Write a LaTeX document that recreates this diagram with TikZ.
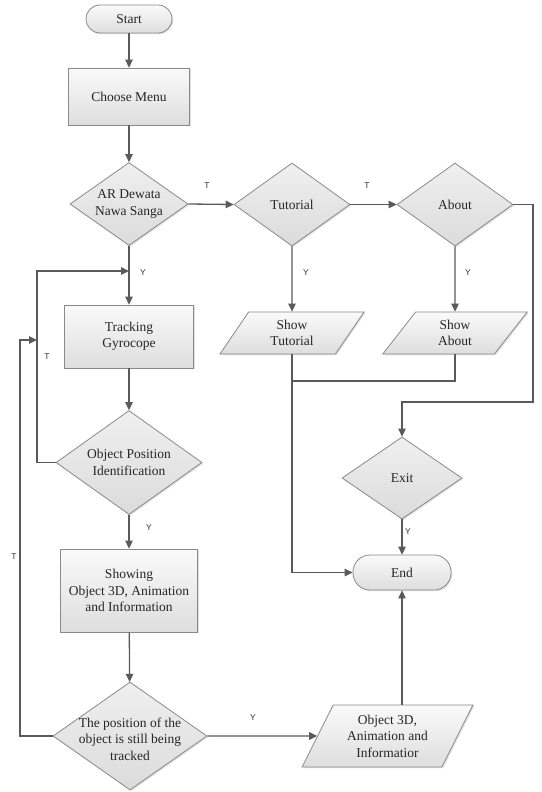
\documentclass[tikz,border=0pt]{standalone}
\usepackage{fontspec}
\setmainfont{Liberation Serif}
\newfontfamily\lblfont{Liberation Sans}
\usetikzlibrary{shapes.geometric,arrows.meta,shadows}
\definecolor{edgec}{HTML}{8A8A8A}
\definecolor{linec}{HTML}{5A5A5A}
\definecolor{txtc}{HTML}{262626}
\begin{document}
\begin{tikzpicture}[x=1pt,y=-1pt,
  maintext/.style={font=\fontsize{13.5}{16.5}\selectfont, text=txtc, align=center},
  base/.style={draw=edgec, line width=0.8pt, top color=black!2, bottom color=black!13,
    drop shadow={shadow xshift=1.2pt, shadow yshift=-1.2pt, opacity=0.25},
    maintext, inner sep=1pt},
  term/.style={base, rectangle, rounded corners=#1},
  proc/.style={base, rectangle},
  dec/.style={base, diamond, inner sep=0pt, top color=black!6, bottom color=black!14},
  io/.style={base, trapezium, trapezium left angle=62, trapezium right angle=118,
    trapezium stretches=true},
  dtext/.style={maintext},
  conn/.style={draw=linec, line width=1.3pt},
  arr/.style={conn, -{Triangle[length=8pt,width=7.5pt]}},
  yt/.style={font=\lblfont\fontsize{8.5}{9}\selectfont, text=black!80, inner sep=0pt}
]
\path[use as bounding box, fill=white] (0,0) rectangle (541,792);

% left column
\node[term=14pt, minimum width=86pt, minimum height=28pt] (start) at (129,19) {Start};
\node[proc, minimum width=121pt, minimum height=57pt] (menu) at (129,96.5) {Choose Menu};
\node[dec, minimum width=118pt, minimum height=83pt,
  label={[dtext]center:{AR Dewata\\Nawa Sanga}}] (ar) at (129,204) {};
\node[proc, minimum width=129pt, minimum height=63pt] (track) at (129,336.5) {Tracking\\Gyrocope};
\node[dec, minimum width=146pt, minimum height=104pt,
  label={[dtext]center:{Object Position\\Identification}}] (objpos) at (129,462.5) {};
\node[proc, minimum width=137pt, minimum height=83pt] (show3d) at (129,590.5)
  {Showing\\Object 3D, Animation\\and Information};
\node[dec, minimum width=154pt, minimum height=108pt,
  label={[dtext, yshift=-3pt]center:{The position of the\\object is still being\\tracked}}] (tracked) at (130,736) {};

% right part
\node[dec, minimum width=116pt, minimum height=83pt,
  label={[dtext]center:{Tutorial}}] (tut) at (292,204.5) {};
\node[dec, minimum width=116pt, minimum height=83pt,
  label={[dtext]center:{About}}] (about) at (455,204.5) {};
\node[io, minimum width=145pt, minimum height=42pt] (stut) at (292,333) {Show\\Tutorial};
\node[io, minimum width=145pt, minimum height=42pt] (sabout) at (455,333) {Show\\About};
\node[dec, minimum width=120pt, minimum height=82pt,
  label={[dtext]center:{Exit}}] (exitd) at (402,478) {};
\node[term=17pt, minimum width=98pt, minimum height=35pt] (endn) at (402,572.5) {End};
\node[io, minimum width=171pt, minimum height=62pt] (out3d) at (387.5,736)
  {Object 3D,\\Animation and\\Informatior};

% coordinates for bends
\coordinate (loopA) at (37,271);
\coordinate (loopB) at (20,340);
\coordinate (rc) at (533,402);
\coordinate (jn) at (292,381);

% connectors
\draw[arr] (start) -- (menu);
\draw[arr] (menu) -- (ar);
\draw[arr] (ar) -- (track);
\draw[arr] (track) -- (objpos);
\draw[arr] (objpos) -- (show3d);
\draw[arr] (show3d) -- (tracked);
\draw[arr] (objpos.west) -| (loopA) -- (loopA -| ar.south);
\draw[arr] (tracked.west) -| (loopB) -- (loopB -| loopA);
\draw[arr] (tracked.east) -- (out3d.west);
\draw[arr] (endn.south |- out3d.north) -- (endn.south);
\draw[arr] (ar.east) -- (tut.west);
\draw[arr] (tut.east) -- (about.west);
\draw[arr] (about.east) -| (rc) -| (exitd.north);
\draw[arr] (tut.south) -- (stut.north);
\draw[arr] (about.south) -- (sabout.north);
\draw[conn] (sabout.south) |- (jn);
\draw[arr] (stut.south) |- (endn.west);
\draw[arr] (exitd.south) -- (endn.north);

% Y / T labels
\node[yt] (l1) at (143,273) {Y};
\node[yt] (l2) at (47,357) {T};
\node[yt] (l3) at (14,557) {T};
\node[yt] (l4) at (149,528) {Y};
\node[yt] (l5) at (253,718) {Y};
\node[yt] (l6) at (207,186) {T};
\node[yt] (l7) at (367,186) {T};
\node[yt] (l8) at (306,273) {Y};
\node[yt] (l9) at (468,273) {Y};
\node[yt] (l10) at (408,532) {Y};
\end{tikzpicture}
\end{document}
